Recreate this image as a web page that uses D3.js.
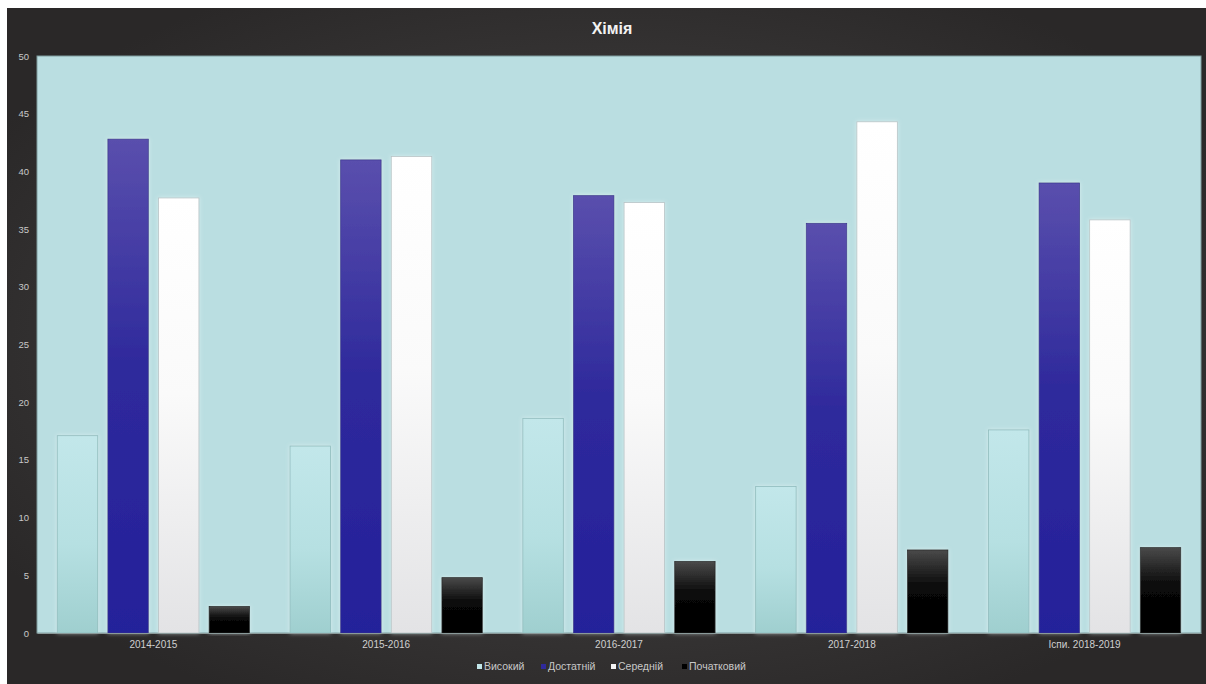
<!DOCTYPE html>
<html><head><meta charset="utf-8">
<script src="https://cdn.jsdelivr.net/npm/d3@7"></script>
<style>html,body{margin:0;padding:0;background:#fff;}svg{display:block;}</style>
</head><body>
<script>
const title = "Хімія";
const categories = ["2014-2015","2015-2016","2016-2017","2017-2018","Іспи. 2018-2019"];
const seriesNames = ["Високий","Достатній","Середній","Початковий"];
const high     = [17.1, 16.2, 18.6, 12.7, 17.6];
const adequate = [42.8, 41.0, 37.9, 35.5, 39.0];
const average  = [37.7, 41.3, 37.3, 44.3, 35.8];
const initial  = [2.3, 4.8, 6.2, 7.2, 7.4];
const yTicks = [0,5,10,15,20,25,30,35,40,45,50];

const seriesValues = [high, adequate, average, initial];
const W = 1206, H = 684;
const frame = {x:7, y:8, w:1199, h:676};
const plot = {l:37, t:56, r:1201, b:633};

const svg = d3.select("body").append("svg").attr("width", W).attr("height", H);
const defs = svg.append("defs");

const bgG = defs.append("radialGradient").attr("id","bg").attr("cx","50%").attr("cy","50%").attr("r","60%");
bgG.append("stop").attr("offset","0%").attr("stop-color","#4d4b4b");
bgG.append("stop").attr("offset","100%").attr("stop-color","#2a2828");

const grads = [
  {id:"g0", stops:[["0%","#c2e7ea"],["55%","#b6e0e2"],["100%","#9fcfcf"]], stroke:"#90bcbd"},
  {id:"g1", stops:[["0%","#5a4fad"],["45%","#2f2a9c"],["100%","#24209a"]], stroke:"#3a3590"},
  {id:"g2", stops:[["0%","#ffffff"],["45%","#fafafa"],["100%","#e3e3e5"]], stroke:"#b8c4c6"},
  {id:"g3", stops:[["0%","#4a4a4a"],["45%","#080808"],["100%","#000000"]], stroke:"#222"}
];
grads.forEach(g => {
  const lg = defs.append("linearGradient").attr("id", g.id).attr("x1",0).attr("y1",0).attr("x2",0).attr("y2",1);
  g.stops.forEach(s => lg.append("stop").attr("offset", s[0]).attr("stop-color", s[1]));
});
const glow = defs.append("filter").attr("id","glow").attr("x","-30%").attr("y","-10%").attr("width","160%").attr("height","120%");
glow.append("feGaussianBlur").attr("in","SourceAlpha").attr("stdDeviation",2).attr("result","b");
glow.append("feFlood").attr("flood-color","#e8f6f6").attr("flood-opacity",0.6);
glow.append("feComposite").attr("in2","b").attr("operator","in").attr("result","s");
const mg = glow.append("feMerge");
mg.append("feMergeNode").attr("in","s");
mg.append("feMergeNode").attr("in","SourceGraphic");

svg.append("rect").attr("x",frame.x).attr("y",frame.y).attr("width",frame.w).attr("height",frame.h).attr("fill","url(#bg)");

svg.append("rect").attr("x",plot.l).attr("y",plot.t).attr("width",plot.r-plot.l).attr("height",plot.b-plot.t)
  .attr("fill","#badee1").attr("stroke","#7e9c9e").attr("stroke-width",1);

const x0 = d3.scaleBand().domain(categories).range([plot.l, plot.r]).paddingInner(0).paddingOuter(0);
const x1 = d3.scaleBand().domain(d3.range(seriesNames.length)).range([0, x0.bandwidth()]).paddingInner(0.2).paddingOuter(0.4);
const y = d3.scaleLinear().domain([0,50]).range([plot.b, plot.t]);

const groups = svg.append("g").selectAll("g").data(categories).join("g")
  .attr("transform", d => `translate(${x0(d)},0)`);
groups.selectAll("rect").data((d,i) => seriesValues.map((s,k) => ({k, v:s[i]}))).join("rect")
  .attr("x", d => x1(d.k)).attr("width", x1.bandwidth())
  .attr("y", d => y(d.v)).attr("height", d => y(0) - y(d.v))
  .attr("fill", d => `url(#g${d.k})`).attr("stroke", d => grads[d.k].stroke).attr("stroke-width",0.8)
  .attr("filter","url(#glow)");

const yAxis = svg.append("g").attr("transform",`translate(${plot.l},0)`)
  .call(d3.axisLeft(y).tickValues(yTicks).tickSize(0).tickPadding(8));
yAxis.select(".domain").remove();
yAxis.selectAll("text").attr("fill","#c8c8c8").style("font-family","Liberation Sans, Arial, sans-serif").style("font-size","9.5px");

const xAxis = svg.append("g").attr("transform",`translate(0,${plot.b})`)
  .call(d3.axisBottom(x0).tickSize(0).tickPadding(8));
xAxis.select(".domain").attr("stroke","#8a9a9a");
xAxis.selectAll("text").attr("fill","#d0d0d0").style("font-family","Liberation Sans, Arial, sans-serif").style("font-size","10px");

svg.append("text").attr("x",612).attr("y",34).attr("text-anchor","middle")
  .attr("fill","#f2f2f2").style("font-family","Liberation Sans, Arial, sans-serif")
  .style("font-size","16px").style("font-weight","bold").text(title);

const legendColors = ["#c2e7ea","#2f2a9c","#f4f4f4","#000000"];
const legendX = [477, 541, 611, 682];
const lg = svg.append("g");
seriesNames.forEach((n,i) => {
  lg.append("rect").attr("x",legendX[i]).attr("y",664).attr("width",5).attr("height",5).attr("fill",legendColors[i]);
  lg.append("text").attr("x",legendX[i]+7).attr("y",670).attr("fill","#c8c8c8")
    .style("font-family","Liberation Sans, Arial, sans-serif").style("font-size","10.5px").text(n);
});
</script>
</body></html>
